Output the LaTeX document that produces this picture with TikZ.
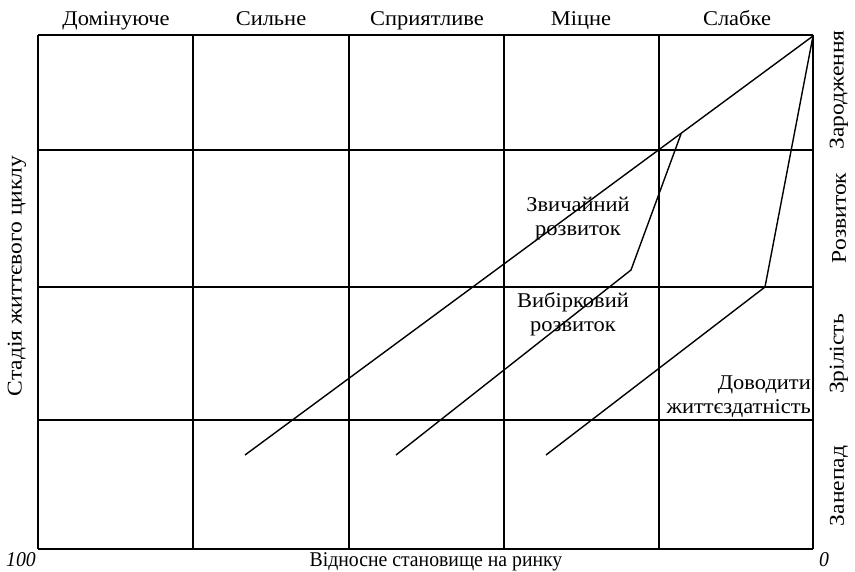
\documentclass[tikz,border=0pt]{standalone}
\usepackage{fontspec}
\setmainfont{Liberation Serif}
\newfontfamily\widefont[FakeStretch=1.07]{Liberation Serif}
\newfontfamily\tallfont[FakeStretch=1.12]{Liberation Serif}
\newfontfamily\narrowfont[FakeStretch=0.94]{Liberation Serif}
\begin{document}
\begin{tikzpicture}[x=1pt,y=-1pt,
  gridline/.style={line width=1.6pt},
  curve/.style={line width=1.4pt, line join=miter},
  lbl/.style={font=\widefont\fontsize{21}{24}\selectfont, inner sep=0pt},
  toplbl/.style={lbl, anchor=base},
  sidelbl/.style={font=\tallfont\fontsize{21}{24}\selectfont, inner sep=0pt, rotate=90},
  numlbl/.style={font=\narrowfont\fontsize{21}{24}\selectfont\itshape, inner sep=0pt, anchor=base},
  cell/.style={font=\widefont\fontsize{21}{24}\selectfont, inner sep=0pt, align=center}]
\useasboundingbox (0,0) rectangle (855,572);
% grid
\foreach \x in {38,193,349,504,659,813} \draw[gridline] (\x,35) -- (\x,549);
\foreach \y in {35,150,287,420,549} \draw[gridline] (38,\y) -- (813,\y);
% column labels
\node[toplbl] (c1) at (116,26) {Домінуюче};
\node[toplbl] (c2) at (271,26) {Сильне};
\node[toplbl] (c3) at (427,26) {Сприятливе};
\node[toplbl] (c4) at (581,26) {Міцне};
\node[toplbl] (c5) at (737,26) {Слабке};
% row labels
\node[sidelbl] (r1) at (839,90) {Зародження};
\node[sidelbl] (r2) at (839,218) {Розвиток};
\node[sidelbl] (r3) at (839,354) {Зрілість};
\node[sidelbl] (r4) at (839,486) {Занепад};
\node[sidelbl] (yl) at (17,276) {Стадія життєвого циклу};
% bottom labels
\node[numlbl, font=\narrowfont\fontsize{21}{24}\selectfont] (xl) at (436,566) {Відносне становище на ринку};
\node[numlbl] (x100) at (21,566) {100};
\node[numlbl] (x0) at (824,566) {0};
% curve points
\coordinate (top) at (813,36);
\coordinate (a1) at (245,455);
\coordinate (b0) at (681,134);
\coordinate (b1) at (631,270);
\coordinate (b2) at (396,455);
\coordinate (d1) at (765,287);
\coordinate (d2) at (546,455);
\draw[curve] (top) -- (a1);
\draw[curve] (b0) -- (b1) -- (b2);
\draw[curve] (top) -- (d1) -- (d2);
% cell texts
\node[cell] (t1) at (578,219) {Звичайний\\розвиток};
\node[cell] (t2) at (573,314) {Вибірковий\\розвиток};
\node[cell, align=right, anchor=east] (t3) at (811,397) {Доводити\\життєздатність};
\end{tikzpicture}
\end{document}
